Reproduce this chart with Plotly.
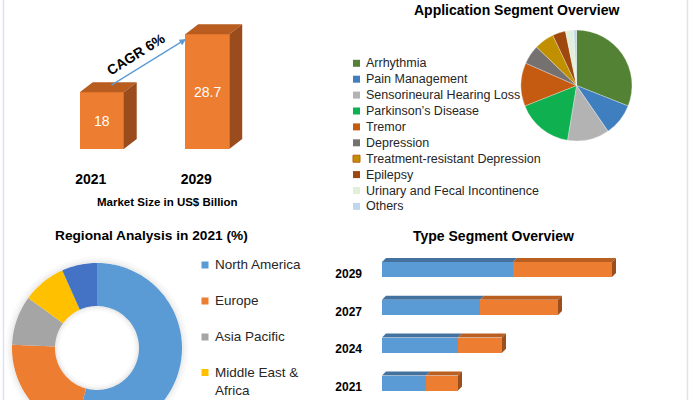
import math
import plotly.graph_objects as go

W, H = 693, 400

# ---------------- data ----------------
market_years = ["2021", "2029"]
market_values = [18, 28.7]
cagr_label = "CAGR 6%"
market_caption = "Market Size in US$ Billion"

app_title = "Application Segment Overview"
app_labels = ["Arrhythmia", "Pain Management", "Sensorineural Hearing Loss",
              "Parkinson’s Disease", "Tremor", "Depression",
              "Treatment-resistant Depression", "Epilepsy",
              "Urinary and Fecal Incontinence", "Others"]
app_values = [31.0, 9.4, 12.2, 16.4, 12.6, 5.6, 5.8, 3.8, 2.4, 0.8]
app_colors = ["#548235", "#3f7fc0", "#b3b3b3", "#0fb050", "#c55a11",
              "#767171", "#c09000", "#9e480e", "#e2efda", "#bdd7ee"]

region_title = "Regional Analysis in 2021 (%)"
region_labels = ["North America", "Europe", "Asia Pacific",
                 "Middle East &<br>Africa", "South America"]
region_values = [54.2, 21.4, 9.4, 8.3, 6.7]
region_colors = ["#5b9bd5", "#ed7d31", "#a5a5a5", "#ffc000", "#4472c4"]

type_title = "Type Segment Overview"
type_years = ["2021", "2024", "2027", "2029"]
type_a = [4.4, 7.6, 9.8, 13.1]
type_b = [3.2, 4.4, 7.8, 9.9]

FONT = "Liberation Sans, Arial, sans-serif"


def px(x):
    return x / W


def py(y):
    return 1 - y / H


fig = go.Figure()

# ---------------- market size 3D bars ----------------
M_BASE = 7.5
M_W = 0.417
M_DX = 0.123
M_DY = 1.85
fig.add_trace(go.Bar(x=list(range(len(market_values))), y=market_values,
                     width=M_W, marker=dict(color="#ed7d31", line=dict(width=0)),
                     xaxis="x", yaxis="y", showlegend=False, hoverinfo="skip"))
tx, ty, sx, sy = [], [], [], []
for i, v in enumerate(market_values):
    l, r = i - M_W / 2, i + M_W / 2
    tx += [l, l + M_DX, r + M_DX, r, l, None]
    ty += [v, v + M_DY, v + M_DY, v, v, None]
    sx += [r, r + M_DX, r + M_DX, r, r, None]
    sy += [M_BASE, M_BASE + M_DY, v + M_DY, v, M_BASE, None]
fig.add_trace(go.Scatter(x=tx, y=ty, fill="toself", fillcolor="#b85c1f", mode="none",
                         xaxis="x", yaxis="y", showlegend=False, hoverinfo="skip"))
fig.add_trace(go.Scatter(x=sx, y=sy, fill="toself", fillcolor="#9a4c1c", mode="none",
                         xaxis="x", yaxis="y", showlegend=False, hoverinfo="skip"))

annotations = []
for i, v in enumerate(market_values):
    annotations.append(dict(x=i, y=(M_BASE + v) / 2, xref="x", yref="y", text=str(v),
                            xanchor="center", yanchor="middle",
                            showarrow=False, font=dict(color="white", size=14, family=FONT)))

# ---------------- type segment 3D stacked bars ----------------
T_W = 0.4
T_DX = 0.4
T_DY = 0.106
yy = list(range(len(type_years)))
fig.add_trace(go.Bar(y=yy, x=type_a, orientation="h", width=T_W,
                     marker=dict(color="#5b9bd5", line=dict(width=0)),
                     xaxis="x2", yaxis="y2", showlegend=False, hoverinfo="skip"))
fig.add_trace(go.Bar(y=yy, x=type_b, orientation="h", width=T_W,
                     marker=dict(color="#ed7d31", line=dict(width=0)),
                     xaxis="x2", yaxis="y2", showlegend=False, hoverinfo="skip"))
bx, by, ox, oy, ex, ey = [], [], [], [], [], []
for j, (a, b) in enumerate(zip(type_a, type_b)):
    t = j + T_W / 2
    bt = j - T_W / 2
    bx += [0, T_DX, a + T_DX, a, 0, None]
    by += [t, t + T_DY, t + T_DY, t, t, None]
    ox += [a, a + T_DX, a + b + T_DX, a + b, a, None]
    oy += [t, t + T_DY, t + T_DY, t, t, None]
    e = a + b
    ex += [e, e + T_DX, e + T_DX, e, e, None]
    ey += [bt, bt + T_DY, t + T_DY, t, bt, None]
fig.add_trace(go.Scatter(x=bx, y=by, fill="toself", fillcolor="#44729f", mode="none",
                         xaxis="x2", yaxis="y2", showlegend=False, hoverinfo="skip"))
fig.add_trace(go.Scatter(x=ox, y=oy, fill="toself", fillcolor="#b95f22", mode="none",
                         xaxis="x2", yaxis="y2", showlegend=False, hoverinfo="skip"))
fig.add_trace(go.Scatter(x=ex, y=ey, fill="toself", fillcolor="#9c4e1c", mode="none",
                         xaxis="x2", yaxis="y2", showlegend=False, hoverinfo="skip"))

# ---------------- regional donut (drawn on its own axes) ----------------
R_IN = 0.494


def ring(a0, a1, r0, r1):
    n = max(3, int(abs(a1 - a0) / 1.5) + 2)
    angs = [a0 + (a1 - a0) * k / (n - 1) for k in range(n)]
    xs = [r1 * math.sin(math.radians(a)) for a in angs]
    ys = [r1 * math.cos(math.radians(a)) for a in angs]
    xs += [r0 * math.sin(math.radians(a)) for a in reversed(angs)]
    ys += [r0 * math.cos(math.radians(a)) for a in reversed(angs)]
    xs.append(xs[0])
    ys.append(ys[0])
    return xs, ys


for r0, r1, al in [(1.0, 1.025, 0.07), (1.025, 1.05, 0.04), (1.05, 1.075, 0.018)]:
    xs, ys = ring(0, 359.9, r0, r1)
    fig.add_trace(go.Scatter(x=xs, y=ys, fill="toself", fillcolor=f"rgba(0,0,0,{al})",
                             mode="none", xaxis="x3", yaxis="y3", showlegend=False,
                             hoverinfo="skip"))

total = sum(region_values)
start = 0.0
for lab, v, c in zip(region_labels, region_values, region_colors):
    end = start + 360.0 * v / total
    xs, ys = ring(start, end, R_IN, 1.0)
    fig.add_trace(go.Scatter(x=xs, y=ys, fill="toself", fillcolor=c, mode="none",
                             name=lab, xaxis="x3", yaxis="y3", showlegend=False,
                             hoverinfo="skip"))
    start = end

for r0, r1, al in [(R_IN - 0.02, R_IN, 0.08), (R_IN - 0.04, R_IN - 0.02, 0.045),
                   (R_IN - 0.06, R_IN - 0.04, 0.02)]:
    xs, ys = ring(0, 359.9, r0, r1)
    fig.add_trace(go.Scatter(x=xs, y=ys, fill="toself", fillcolor=f"rgba(0,0,0,{al})",
                             mode="none", xaxis="x3", yaxis="y3", showlegend=False,
                             hoverinfo="skip"))

# donut axis geometry (pixels)
DCX, DCY, DR = 97, 348, 85
DX0, DX1, DY0, DY1 = 5, 195, 255, 400

# ---------------- application pie ----------------
fig.add_trace(go.Pie(labels=app_labels, values=app_values, sort=False,
                     direction="clockwise", rotation=0, textinfo="none",
                     marker=dict(colors=app_colors, line=dict(color="rgba(255,255,255,0.6)", width=0.5)),
                     domain=dict(x=[px(521), px(632)], y=[py(141), py(30)]),
                     showlegend=False, hoverinfo="label+percent"))

shapes = []
# application legend
for k, (lab, c) in enumerate(zip(app_labels, app_colors)):
    yc = 63.3 + 15.9 * k
    line_c = "#c55a11" if k == 6 else c
    shapes.append(dict(type="rect", xref="paper", yref="paper",
                       x0=px(353), x1=px(360), y0=py(yc + 3.5), y1=py(yc - 3.5),
                       fillcolor=c, line=dict(color=line_c, width=1 if k == 6 else 0)))
    annotations.append(dict(x=px(364), y=py(yc), xref="paper", yref="paper", text=lab,
                            xanchor="left", yanchor="middle", showarrow=False,
                            font=dict(size=12.5, color="#262626", family=FONT)))

# regional legend (visible entries)
REG_Y = [265, 301, 337, 372.5]
for k, (lab, c) in enumerate(zip(region_labels[:4], region_colors[:4])):
    yc = REG_Y[k]
    shapes.append(dict(type="rect", xref="paper", yref="paper",
                       x0=px(201.5), x1=px(208.5), y0=py(yc + 3.5), y1=py(yc - 3.5),
                       fillcolor=c, line=dict(width=0)))
    annotations.append(dict(x=px(213), y=py(yc - 9.8), xref="paper", yref="paper",
                            text=lab, xanchor="left", yanchor="top",
                            showarrow=False, align="left",
                            font=dict(size=13.5, color="#262626", family=FONT)))

# frame lines
for xl in (3.5, 687.5):
    shapes.append(dict(type="line", xref="paper", yref="paper", x0=px(xl), x1=px(xl),
                       y0=0, y1=1, line=dict(color="#dae3f0", width=1.5)))

# titles and captions
for txt, x, y, s in [(app_title, 516, 10.5, 14), (region_title, 151, 235.5, 13.7),
                     (type_title, 493, 235.5, 14), (market_caption, 167, 202, 11.5)]:
    annotations.append(dict(x=px(x), y=py(y), xref="paper", yref="paper",
                            text=f"<b>{txt}</b>", showarrow=False,
                            xanchor="center", yanchor="middle",
                            font=dict(size=s, color="black", family=FONT)))

# CAGR arrow and label
annotations.append(dict(x=px(186), y=py(39), xref="paper", yref="paper", text="",
                        showarrow=True, ax=110 - 186, ay=86 - 39, axref="pixel", ayref="pixel",
                        arrowhead=2, arrowsize=1, arrowwidth=1.3, arrowcolor="#5b9bd5"))
annotations.append(dict(x=px(136), y=py(54), xref="paper", yref="paper",
                        text=f"<b>{cagr_label}</b>", showarrow=False, textangle=-32,
                        xanchor="center", yanchor="middle",
                        font=dict(size=14, color="black", family=FONT)))

noax = dict(showgrid=False, zeroline=False, showline=False, ticks="")

fig.update_layout(
    width=W, height=H, margin=dict(l=0, r=0, t=0, b=0),
    paper_bgcolor="white", plot_bgcolor="rgba(0,0,0,0)",
    barmode="stack", bargap=0, showlegend=False,
    font=dict(family=FONT),
    xaxis=dict(domain=[px(49), px(260)], range=[-0.5, 1.5], tickvals=[0, 1],
               ticktext=market_years, tickfont=dict(size=14, color="black", weight="bold"),
               ticklabelshift=-11, ticklabelstandoff=20, fixedrange=True, **noax),
    yaxis=dict(domain=[py(149), py(11)], range=[M_BASE, 33], showticklabels=False,
               fixedrange=True, **noax),
    xaxis2=dict(domain=[px(382), px(642)], range=[0, 26], showticklabels=False,
                anchor="y2", fixedrange=True, **noax),
    yaxis2=dict(domain=[py(398.1), py(250.6)], range=[-0.4, 3.5], tickvals=yy,
                ticktext=type_years, tickfont=dict(size=12, color="black", weight="bold"),
                ticklabelshift=4, ticklabelstandoff=19, anchor="x2", fixedrange=True, **noax),
    xaxis3=dict(domain=[px(DX0), px(DX1)],
                range=[-(DCX - DX0) / DR, (DX1 - DCX) / DR], visible=False,
                anchor="y3", fixedrange=True),
    yaxis3=dict(domain=[py(DY1), py(DY0)],
                range=[-(DY1 - DCY) / DR, (DCY - DY0) / DR], visible=False,
                anchor="x3", fixedrange=True),
    shapes=shapes,
    annotations=annotations,
)

fig.write_html("out.html", config={"displayModeBar": False},
               post_script="document.body.style.margin='0px';document.body.style.overflow='hidden';")
